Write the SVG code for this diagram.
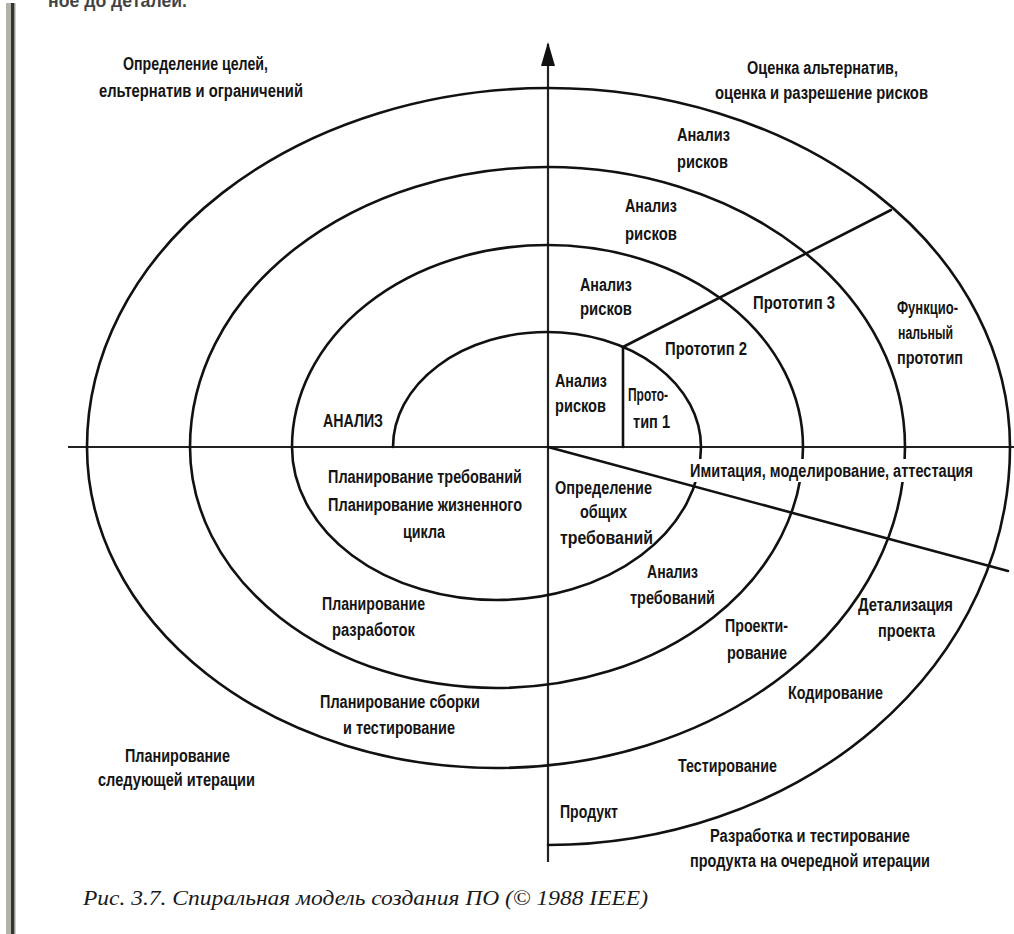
<svg xmlns="http://www.w3.org/2000/svg" width="1014" height="934" viewBox="0 0 1014 934">
<defs>
<style>
.ln{fill:none;stroke:#111;stroke-width:2.6;stroke-linecap:round}
.ax{fill:none;stroke:#222;stroke-width:2.2}
.t{font-family:"Liberation Sans","DejaVu Sans",sans-serif;font-size:18px;font-weight:bold;fill:#141414}
.cap{font-family:"Liberation Serif","DejaVu Serif",serif;font-size:22px;font-style:italic;fill:#1a1a1a}
</style>
<marker id="arr" markerWidth="24" markerHeight="14" refX="22" refY="7" orient="auto" markerUnits="userSpaceOnUse" viewBox="0 0 24 14">
<path d="M0 0 L24 7 L0 14 Z" fill="#111"/>
</marker>
</defs>
<rect width="1014" height="934" fill="#fff"/>
<g id="border">
<rect x="6" y="3" width="5" height="931" fill="#b3b2aa"/>
<rect x="11" y="3" width="3" height="931" fill="#333"/>
<rect x="14" y="3" width="1.5" height="931" fill="#9a9a94"/>
</g>
<text class="t" x="48" y="7" textLength="139" lengthAdjust="spacingAndGlyphs" opacity="0.8">ное до деталей.</text>
<g id="connectors">
<line class="ax" x1="68" y1="447" x2="1014" y2="447"/>
<line class="ax" x1="548" y1="862" x2="548" y2="44" marker-end="url(#arr)"/>
<path id="spiral" class="ln" d="M393 447 A154 115 0 0 1 701 447 A204.5 153 0 0 1 292 447 A255.5 202 0 0 1 803 447 A306.5 241 0 0 1 190 447 A357.5 280 0 0 1 905 447 A409 321 0 0 1 87 447 A461.5 359 0 0 1 1010 447 A462 398 0 0 1 548 845"/>
<line class="ln" x1="623" y1="347" x2="623" y2="447"/>
<line class="ln" x1="623" y1="347" x2="891" y2="210"/>
<line class="ln" x1="548" y1="447" x2="1008" y2="571"/>
<rect x="688" y="459" width="288" height="23" fill="#fff"/>
</g>
<g id="quadrant-labels">
<text class="t" x="123" y="70" textLength="145" lengthAdjust="spacingAndGlyphs">Определение целей,</text>
<text class="t" x="99" y="97" textLength="204" lengthAdjust="spacingAndGlyphs">ельтернатив и ограничений</text>
<text class="t" x="747" y="74" textLength="151" lengthAdjust="spacingAndGlyphs">Оценка альтернатив,</text>
<text class="t" x="715" y="99" textLength="213" lengthAdjust="spacingAndGlyphs">оценка и разрешение рисков</text>
<text class="t" x="125" y="762" textLength="105" lengthAdjust="spacingAndGlyphs">Планирование</text>
<text class="t" x="98" y="786" textLength="157" lengthAdjust="spacingAndGlyphs">следующей итерации</text>
<text class="t" x="710" y="842" textLength="200" lengthAdjust="spacingAndGlyphs">Разработка и тестирование</text>
<text class="t" x="690" y="867" textLength="240" lengthAdjust="spacingAndGlyphs">продукта на очередной итерации</text>
</g>
<g id="risk-labels">
<text class="t" x="677" y="141" textLength="53" lengthAdjust="spacingAndGlyphs">Анализ</text>
<text class="t" x="677" y="168" textLength="51" lengthAdjust="spacingAndGlyphs">рисков</text>
<text class="t" x="625" y="212" textLength="52" lengthAdjust="spacingAndGlyphs">Анализ</text>
<text class="t" x="625" y="240" textLength="52" lengthAdjust="spacingAndGlyphs">рисков</text>
<text class="t" x="580" y="291" textLength="52" lengthAdjust="spacingAndGlyphs">Анализ</text>
<text class="t" x="580" y="315" textLength="52" lengthAdjust="spacingAndGlyphs">рисков</text>
<text class="t" x="555" y="387" textLength="52" lengthAdjust="spacingAndGlyphs">Анализ</text>
<text class="t" x="555" y="412" textLength="51" lengthAdjust="spacingAndGlyphs">рисков</text>
</g>
<g id="prototype-labels">
<text class="t" x="628" y="401" textLength="40" lengthAdjust="spacingAndGlyphs">Прото-</text>
<text class="t" x="633" y="428" textLength="37" lengthAdjust="spacingAndGlyphs">тип 1</text>
<text class="t" x="665" y="355" textLength="82" lengthAdjust="spacingAndGlyphs">Прототип 2</text>
<text class="t" x="753" y="309" textLength="82" lengthAdjust="spacingAndGlyphs">Прототип 3</text>
<text class="t" x="897" y="314" textLength="61" lengthAdjust="spacingAndGlyphs">Функцио-</text>
<text class="t" x="898" y="339" textLength="55" lengthAdjust="spacingAndGlyphs">нальный</text>
<text class="t" x="897" y="364" textLength="66" lengthAdjust="spacingAndGlyphs">прототип</text>
</g>
<g id="planning-labels">
<text class="t" x="323" y="427" textLength="60" lengthAdjust="spacingAndGlyphs">АНАЛИЗ</text>
<text class="t" x="328" y="483" textLength="194" lengthAdjust="spacingAndGlyphs">Планирование требований</text>
<text class="t" x="328" y="511" textLength="194" lengthAdjust="spacingAndGlyphs">Планирование жизненного</text>
<text class="t" x="403" y="538" textLength="42" lengthAdjust="spacingAndGlyphs">цикла</text>
<text class="t" x="322" y="610" textLength="103" lengthAdjust="spacingAndGlyphs">Планирование</text>
<text class="t" x="332" y="636" textLength="83" lengthAdjust="spacingAndGlyphs">разработок</text>
<text class="t" x="320" y="708" textLength="160" lengthAdjust="spacingAndGlyphs">Планирование сборки</text>
<text class="t" x="343" y="734" textLength="112" lengthAdjust="spacingAndGlyphs">и тестирование</text>
</g>
<g id="development-labels">
<text class="t" x="555" y="494" textLength="97" lengthAdjust="spacingAndGlyphs">Определение</text>
<text class="t" x="580" y="518" textLength="47" lengthAdjust="spacingAndGlyphs">общих</text>
<text class="t" x="560" y="544" textLength="93" lengthAdjust="spacingAndGlyphs">требований</text>
<text class="t" x="690" y="477" textLength="283" lengthAdjust="spacingAndGlyphs">Имитация, моделирование, аттестация</text>
<text class="t" x="647" y="578" textLength="51" lengthAdjust="spacingAndGlyphs">Анализ</text>
<text class="t" x="630" y="604" textLength="85" lengthAdjust="spacingAndGlyphs">требований</text>
<text class="t" x="725" y="632" textLength="63" lengthAdjust="spacingAndGlyphs">Проекти-</text>
<text class="t" x="727" y="659" textLength="60" lengthAdjust="spacingAndGlyphs">рование</text>
<text class="t" x="858" y="611" textLength="95" lengthAdjust="spacingAndGlyphs">Детализация</text>
<text class="t" x="878" y="637" textLength="57" lengthAdjust="spacingAndGlyphs">проекта</text>
<text class="t" x="788" y="699" textLength="95" lengthAdjust="spacingAndGlyphs">Кодирование</text>
<text class="t" x="678" y="772" textLength="99" lengthAdjust="spacingAndGlyphs">Тестирование</text>
<text class="t" x="560" y="818" textLength="58" lengthAdjust="spacingAndGlyphs">Продукт</text>
</g>
<text class="cap" x="83" y="905" textLength="565" lengthAdjust="spacingAndGlyphs">Рис. 3.7. Спиральная модель создания ПО (© 1988 IEEE)</text>
</svg>
